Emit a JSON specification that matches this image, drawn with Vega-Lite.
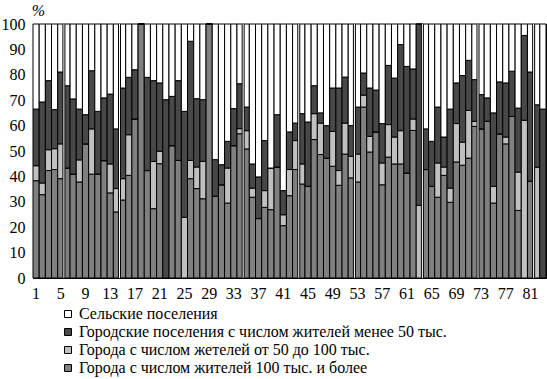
{
  "$schema": "https://vega.github.io/schema/vega-lite/v6.json",
  "width": 513,
  "height": 254,
  "autosize": {"type": "none"},
  "padding": {"left": 33, "top": 24, "right": 1, "bottom": 101},
  "background": "white",
  "config": {
    "font": "Liberation Serif",
    "view": {"stroke": "black", "strokeWidth": 1}
  },
  "datasets": {
    "bars": [
      {"n":1,"a":38.3,"b":5.9,"c":22.3,"d":33.5},
      {"n":2,"a":32.8,"b":4.6,"c":31.9,"d":30.7},
      {"n":3,"a":42.3,"b":8.2,"c":27.2,"d":22.3},
      {"n":4,"a":42.7,"b":8.2,"c":15.4,"d":33.7},
      {"n":5,"a":39.1,"b":13.7,"c":28.3,"d":18.9},
      {"n":6,"a":43.3,"b":0,"c":32.4,"d":24.3},
      {"n":7,"a":40.9,"b":0,"c":29.6,"d":29.5},
      {"n":8,"a":37.8,"b":8.7,"c":20.0,"d":33.5},
      {"n":9,"a":52.8,"b":0,"c":11.5,"d":35.7},
      {"n":10,"a":40.9,"b":17.8,"c":22.9,"d":18.4},
      {"n":11,"a":40.9,"b":0,"c":24.7,"d":34.4},
      {"n":12,"a":46.2,"b":0,"c":24.7,"d":29.1},
      {"n":13,"a":33.5,"b":11.4,"c":27.5,"d":27.6},
      {"n":14,"a":26.0,"b":9.2,"c":23.5,"d":41.3},
      {"n":15,"a":30.7,"b":8.4,"c":35.7,"d":25.2},
      {"n":16,"a":40.4,"b":16.0,"c":22.6,"d":21.0},
      {"n":17,"a":62.6,"b":0,"c":19.4,"d":18.0},
      {"n":18,"a":100,"b":0,"c":0,"d":0},
      {"n":19,"a":42.3,"b":0,"c":36.7,"d":21.0},
      {"n":20,"a":27.3,"b":18.6,"c":31.8,"d":22.3},
      {"n":21,"a":45.0,"b":4.9,"c":26.9,"d":23.2},
      {"n":22,"a":0,"b":0,"c":70.2,"d":29.8},
      {"n":23,"a":52.1,"b":0,"c":19.4,"d":28.5},
      {"n":24,"a":46.3,"b":0,"c":31.4,"d":22.3},
      {"n":25,"a":0,"b":23.9,"c":41.7,"d":34.4},
      {"n":26,"a":39.1,"b":7.2,"c":46.9,"d":6.8},
      {"n":27,"a":35.2,"b":8.5,"c":26.9,"d":29.4},
      {"n":28,"a":31.2,"b":14.7,"c":24.3,"d":29.8},
      {"n":29,"a":100,"b":0,"c":0,"d":0},
      {"n":30,"a":32.2,"b":0,"c":14.4,"d":53.4},
      {"n":31,"a":36.7,"b":0,"c":7.9,"d":55.4},
      {"n":32,"a":29.5,"b":13.8,"c":10.5,"d":46.2},
      {"n":33,"a":52.1,"b":0,"c":14.6,"d":33.3},
      {"n":34,"a":56.8,"b":2.0,"c":17.7,"d":23.5},
      {"n":35,"a":50.8,"b":7.2,"c":9.3,"d":32.7},
      {"n":36,"a":31.8,"b":3.6,"c":9.5,"d":55.1},
      {"n":37,"a":23.4,"b":0,"c":16.4,"d":60.2},
      {"n":38,"a":27.8,"b":6.6,"c":19.7,"d":45.9},
      {"n":39,"a":26.9,"b":16.4,"c":0,"d":56.7},
      {"n":40,"a":43.7,"b":0,"c":20.6,"d":35.7},
      {"n":41,"a":20.6,"b":4.3,"c":9.5,"d":65.6},
      {"n":42,"a":32.4,"b":10.3,"c":14.8,"d":42.5},
      {"n":43,"a":42.7,"b":11.4,"c":6.9,"d":39.0},
      {"n":44,"a":37.0,"b":7.9,"c":19.8,"d":35.3},
      {"n":45,"a":36.1,"b":0,"c":25.3,"d":38.6},
      {"n":46,"a":54.5,"b":10.2,"c":11.0,"d":24.3},
      {"n":47,"a":48.6,"b":12.4,"c":4.0,"d":35.0},
      {"n":48,"a":47.2,"b":0,"c":12.8,"d":40.0},
      {"n":49,"a":44.0,"b":13.7,"c":17.1,"d":25.2},
      {"n":50,"a":36.5,"b":5.8,"c":32.5,"d":25.2},
      {"n":51,"a":48.8,"b":12.2,"c":18.1,"d":20.9},
      {"n":52,"a":39.4,"b":8.5,"c":12.1,"d":40.0},
      {"n":53,"a":37.8,"b":11.0,"c":18.5,"d":32.7},
      {"n":54,"a":67.3,"b":4.7,"c":8.7,"d":19.3},
      {"n":55,"a":49.6,"b":6.2,"c":19.0,"d":25.2},
      {"n":56,"a":57.5,"b":0,"c":16.5,"d":26.0},
      {"n":57,"a":36.7,"b":8.6,"c":15.5,"d":39.2},
      {"n":58,"a":47.6,"b":12.8,"c":23.3,"d":16.3},
      {"n":59,"a":44.9,"b":10.6,"c":23.2,"d":21.3},
      {"n":60,"a":44.9,"b":13.1,"c":33.9,"d":8.1},
      {"n":61,"a":41.3,"b":0,"c":42.0,"d":16.7},
      {"n":62,"a":58.1,"b":4.5,"c":19.7,"d":17.7},
      {"n":63,"a":0,"b":28.6,"c":71.4,"d":0},
      {"n":64,"a":42.7,"b":0,"c":16.0,"d":41.3},
      {"n":65,"a":36.1,"b":0,"c":17.7,"d":46.2},
      {"n":66,"a":31.8,"b":13.5,"c":22.0,"d":32.7},
      {"n":67,"a":40.4,"b":3.3,"c":11.8,"d":44.5},
      {"n":68,"a":29.8,"b":5.6,"c":31.1,"d":33.5},
      {"n":69,"a":45.7,"b":15.1,"c":16.0,"d":23.2},
      {"n":70,"a":44.4,"b":9.1,"c":26.2,"d":20.3},
      {"n":71,"a":47.2,"b":18.8,"c":19.7,"d":14.3},
      {"n":72,"a":59.7,"b":2.0,"c":16.4,"d":21.9},
      {"n":73,"a":58.7,"b":0,"c":13.5,"d":27.8},
      {"n":74,"a":61.7,"b":0,"c":9.2,"d":29.1},
      {"n":75,"a":29.5,"b":6.6,"c":28.9,"d":35.0},
      {"n":76,"a":56.7,"b":0,"c":20.5,"d":22.8},
      {"n":77,"a":52.8,"b":2.7,"c":21.3,"d":23.2},
      {"n":78,"a":63.6,"b":0,"c":17.8,"d":18.6},
      {"n":79,"a":26.6,"b":15.1,"c":25.2,"d":33.1},
      {"n":80,"a":0,"b":62.1,"c":33.4,"d":4.5},
      {"n":81,"a":38.1,"b":0,"c":43.0,"d":18.9},
      {"n":82,"a":0,"b":43.6,"c":24.6,"d":31.8},
      {"n":83,"a":0,"b":0,"c":66.5,"d":33.5}
    ],
    "seps": [{"n":5},{"n":14},{"n":34},{"n":43},{"n":52},{"n":63},{"n":72},{"n":81}]
  },
  "layer": [
    {
      "data": {"name": "bars"},
      "transform": [{"fold": ["a", "b", "c", "d"], "as": ["k", "v"]}],
      "mark": {"type": "bar", "stroke": "black", "strokeWidth": 1},
      "encoding": {
        "x": {
          "field": "n", "type": "ordinal",
          "scale": {"paddingInner": 0, "paddingOuter": 0},
          "axis": {
            "values": [1,5,9,13,17,21,25,29,33,37,41,45,49,53,57,61,65,69,73,77,81],
            "title": null, "labelAngle": 0, "ticks": false, "domain": false,
            "labelFont": "Liberation Serif",
            "labelFontSize": 16, "labelColor": "black", "labelPadding": 7
          }
        },
        "y": {
          "field": "v", "type": "quantitative", "stack": "zero",
          "scale": {"domain": [0, 100], "nice": false},
          "axis": {
            "values": [0,10,20,30,40,50,60,70,80,90,100],
            "title": "%", "titleAngle": 0, "titleX": 5, "titleY": -9,
            "titleAlign": "center", "titleBaseline": "alphabetic",
            "titleFont": "Liberation Serif", "labelFont": "Liberation Serif",
            "titleFontSize": 16, "titleFontWeight": "normal", "titleFontStyle": "italic", "titleColor": "black",
            "labelFontSize": 16, "labelColor": "black", "labelPadding": 8,
            "ticks": false, "domain": false, "grid": false
          }
        },
        "color": {
          "field": "k", "type": "nominal",
          "scale": {"domain": ["d", "c", "b", "a"], "range": ["#ffffff", "#484848", "#c0c0c0", "#808080"]},
          "legend": {
            "orient": "none", "legendX": 27, "legendY": 282, "padding": 0,
            "title": null, "symbolType": "square", "symbolSize": 49,
            "symbolStrokeColor": "black", "symbolStrokeWidth": 1,
            "labelFont": "Liberation Serif",
            "labelFontSize": 16, "labelColor": "black", "labelOffset": 3,
            "labelLimit": 600, "rowPadding": 2,
            "labelExpr": "datum.value == 'd' ? 'Сельские поселения' : datum.value == 'c' ? 'Городские поселения с числом жителей менее 50 тыс.' : datum.value == 'b' ? 'Города с числом жетелей от 50 до 100 тыс.' : 'Города с числом жителей 100 тыс. и более'"
          }
        },
        "order": {"field": "k", "sort": "ascending"}
      }
    },
    {
      "data": {"name": "seps"},
      "mark": {"type": "rule", "color": "black", "strokeWidth": 3},
      "encoding": {"x": {"field": "n", "type": "ordinal", "bandPosition": 1}}
    },
    {
      "data": {"name": "seps"},
      "mark": {"type": "rule", "color": "white", "strokeWidth": 1},
      "encoding": {"x": {"field": "n", "type": "ordinal", "bandPosition": 1}}
    }
  ]
}
